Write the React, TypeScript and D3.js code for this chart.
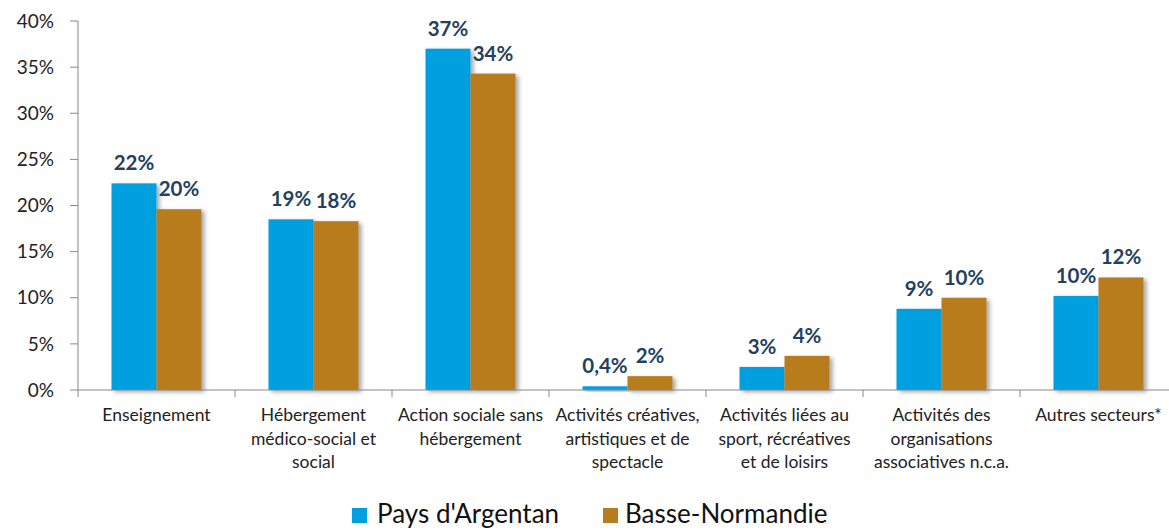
import React, {useEffect} from "react";
import * as d3 from "d3";

const categories = [
	"Enseignement",
	"Hébergement médico-social et social",
	"Action sociale sans hébergement",
	"Activités créatives, artistiques et de spectacle",
	"Activités liées au sport, récréatives et de loisirs",
	"Activités des organisations associatives n.c.a.",
	"Autres secteurs*",
];

// wrapped category labels as they appear under the axis
const categoryLines = [
	["Enseignement"],
	["Hébergement", "médico-social et", "social"],
	["Action sociale sans", "hébergement"],
	["Activités créatives,", "artistiques et de", "spectacle"],
	["Activités liées au", "sport, récréatives", "et de loisirs"],
	["Activités des", "organisations", "associatives n.c.a."],
	["Autres secteurs*"],
];

const seriesNames = ["Pays d'Argentan", "Basse-Normandie"];
const argentan = [22.4, 18.5, 37.0, 0.4, 2.5, 8.8, 10.2];
const basseNormandie = [19.6, 18.3, 34.3, 1.5, 3.7, 10.0, 12.2];
const yTicks = [0, 5, 10, 15, 20, 25, 30, 35, 40];

const colors = ["#009fdf", "#b87b1f"];

const width = 1169;
const height = 531;
const font = "Lato, 'Open Sans', sans-serif";

const fmtLabel = (v: number) =>
	v < 1 ? d3.format(".1f")(v).replace(".", ",") + "%" : Math.round(v) + "%";

const App: React.FC = () => {
	useEffect(() => {
		document.body.style.margin = "0";
	}, []);

	const x = d3
		.scaleBand<string>()
		.domain(categories)
		.range([78, 78 + 157 * 7])
		.paddingInner(0)
		.paddingOuter(0);

	const xInner = d3
		.scaleBand<string>()
		.domain(seriesNames)
		.range([33.5, 123.5]);

	const y = d3.scaleLinear().domain([0, 40]).range([390, 21]);

	const series = [argentan, basseNormandie];
	const bw = x.bandwidth();

	return (
		<svg width={width} height={height} style={{display: "block"}}>
			<defs>
				<filter id="shadow" x="-20%" y="-20%" width="150%" height="150%">
					<feDropShadow dx="3" dy="2" stdDeviation="2" floodColor="#000" floodOpacity="0.35" />
				</filter>
			</defs>
			<rect width={width} height={height} fill="#fff" />

			{/* Y axis */}
			<line x1={78} x2={78} y1={y(40)} y2={y(0)} stroke="#888" strokeWidth={1} />
			{yTicks.map((t) => (
				<g key={t}>
					<line x1={70} x2={78} y1={y(t)} y2={y(t)} stroke="#888" />
					<text
						x={54}
						y={y(t)}
						dy="0.35em"
						textAnchor="end"
						fontFamily={font}
						fontSize={19}
						fill="#222"
					>
						{t}%
					</text>
				</g>
			))}

			{/* bars */}
			{categories.map((c, i) => (
				<g key={c} transform={`translate(${x(c)},0)`}>
					{series.map((s, j) => (
						<rect
							key={j}
							x={xInner(seriesNames[j])}
							y={y(s[i])}
							width={xInner.bandwidth()}
							height={y(0) - y(s[i])}
							fill={colors[j]}
							filter="url(#shadow)"
						/>
					))}
				</g>
			))}

			{/* X axis */}
			<line x1={x.range()[0]} x2={x.range()[1]} y1={390} y2={390} stroke="#888" />
			{d3.range(categories.length + 1).map((k) => {
				const xp = x.range()[0] + k * bw;
				return <line key={k} x1={xp} x2={xp} y1={390} y2={397} stroke="#888" />;
			})}

			{/* data labels */}
			{categories.map((c, i) =>
				series.map((s, j) => (
					<text
						key={c + j}
						x={(x(c) || 0) + (xInner(seriesNames[j]) || 0) + xInner.bandwidth() / 2}
						y={y(s[i]) - 13}
						textAnchor="middle"
						fontFamily={font}
						fontWeight="bold"
						fontSize={20.5}
						fill="#243f60"
					>
						{fmtLabel(s[i])}
					</text>
				))
			)}

			{/* category labels */}
			{categories.map((c, i) => (
				<text
					key={c}
					x={(x(c) || 0) + bw / 2}
					y={421}
					textAnchor="middle"
					fontFamily={font}
					fontSize={17.5}
					fill="#222"
				>
					{categoryLines[i].map((l, k) => (
						<tspan key={k} x={(x(c) || 0) + bw / 2} dy={k === 0 ? 0 : 23.5}>
							{l}
						</tspan>
					))}
				</text>
			))}

			{/* legend */}
			<g fontFamily={font} fontSize={26} fill="#111">
				<rect x={352} y={508} width={15} height={15} fill={colors[0]} />
				<text x={377} y={523}>{seriesNames[0]}</text>
				<rect x={603} y={508} width={15} height={15} fill={colors[1]} />
				<text x={625} y={523}>{seriesNames[1]}</text>
			</g>
		</svg>
	);
};

export default App;
